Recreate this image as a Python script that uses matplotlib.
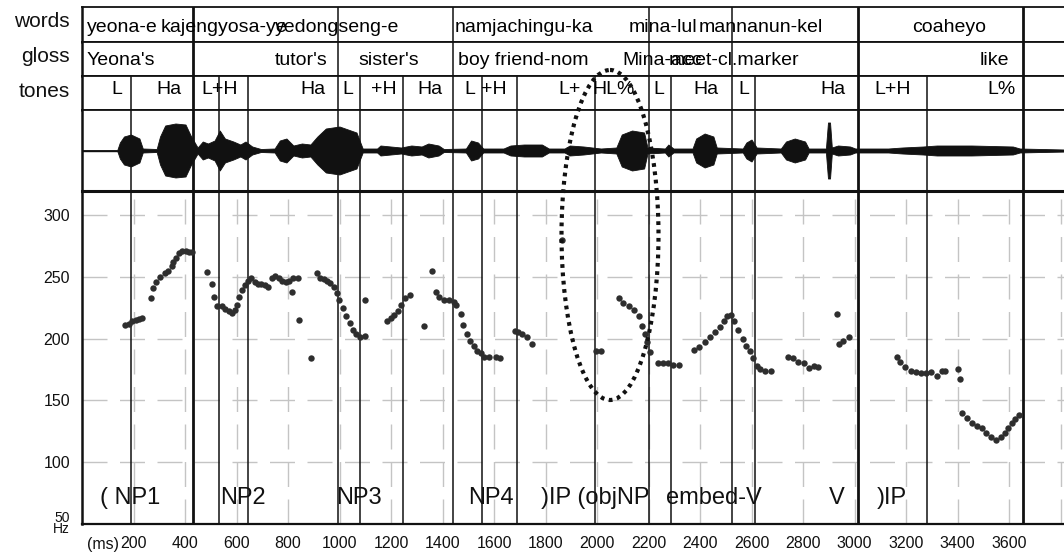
import matplotlib.pyplot as plt
from matplotlib.patches import Ellipse
from matplotlib.transforms import blended_transform_factory

plt.rcParams['font.family'] = ['Liberation Sans', 'DejaVu Sans']

# ---------------- values ----------------
# interval boundaries (ms)
word_bounds = [430, 995, 1442, 2202, 2523, 3015, 3656]
tone_bounds = [189, 430, 532, 643, 995, 1080, 1245, 1442, 1552, 1688,
               1992, 2202, 2286, 2523, 2614, 3015, 3283, 3656]
thick_bounds = [430, 3015, 3656]

# tier labels (text, left edge in ms)
words = ["yeona-e", "kajengyosa-ye", "yedongseng-e", "namjachingu-ka",
         "mina-lul", "mannanun-kel", "coaheyo"]
words_ms = [19, 307, 750, 1449, 2124, 2396, 3223]
gloss = ["Yeona's", "tutor's", "sister's", "boy friend-nom", "Mina-acc",
         "meet-cl.marker", "like"]
gloss_ms = [16, 750, 1072, 1460, 2097, 2280, 3487]
# tones (text, centre in ms)
tones = ["L", "Ha", "L+H", "Ha", "L", "+H", "Ha", "L", "+H", "L+", "HL%",
         "L", "Ha", "L", "Ha", "L+H", "L%"]
tones_ms = [136, 338, 536, 897, 1033, 1173, 1351, 1507, 1600, 1893, 2066,
            2241, 2423, 2571, 2917, 3150, 3569]
# phrase labels inside the pitch panel (left edge in ms)
phrases = ["( NP1", "NP2", "NP3", "NP4", ")IP (objNP", "embed-V", "V", ")IP"]
phrases_ms = [70, 536, 986, 1499, 1783, 2268, 2901, 3087]

# waveform envelope (ms, half amplitude in px)
wave_ms = [0, 137, 147, 163, 190, 223, 236, 290, 303, 323, 363, 402, 422,
           449, 469, 489, 515, 535, 555, 588, 615, 635, 661, 695, 748, 768,
           794, 821, 854, 887, 914, 947, 1000, 1066, 1090, 1146, 1159, 1199,
           1239, 1279, 1319, 1345, 1385, 1405, 1491, 1511, 1538, 1558, 1637,
           1664, 1717, 1786, 1813, 1874, 1894, 1948, 2015, 2075, 2096, 2136,
           2183, 2196, 2264, 2277, 2297, 2371, 2385, 2418, 2452, 2465, 2566,
           2580, 2600, 2620, 2714, 2734, 2768, 2808, 2822, 2889, 2897, 2905,
           2912, 2936, 2983, 3003, 3131, 3185, 3266, 3320, 3454, 3615, 3642,
           3815]
wave_amp = [0.5, 0.5, 8, 14, 16, 12, 2, 1.5, 14, 25, 27, 26, 15,
            3, 9, 7, 10, 20, 12, 9, 6, 9, 4, 1.5, 2, 10,
            12, 5, 7, 6, 14, 22, 24, 18, 2, 2, 5, 4,
            3, 5, 4, 7, 5, 1.5, 2, 10, 8, 2, 2,
            5, 6, 6, 2, 2, 5, 4, 2, 3, 16, 20,
            18, 3, 2, 6, 2, 2, 12, 17, 14, 3, 2,
            8, 11, 3, 2, 9, 12, 9, 2, 2, 28, 28,
            3, 5, 4, 2, 2, 3, 4, 5, 5, 4, 2,
            1]

# F0 track (ms, Hz)
pitch_ms = [167, 181, 194, 208, 221, 232,
            268, 275, 288, 301, 322, 335, 348, 355, 364, 375, 389, 402, 415, 426,
            486, 505, 512, 525, 543, 556, 570, 583, 596, 603, 610, 623, 633, 643,
            657, 670, 683, 697, 710, 724, 737, 750, 764, 777, 791, 804, 820, 838,
            817, 842, 888,
            911, 925, 938, 951, 965, 978, 992, 998, 1012, 1025, 1039, 1052, 1065,
            1079, 1099, 1099,
            1186, 1199, 1213, 1226, 1240, 1253, 1273, 1329, 1360,
            1374, 1387, 1407, 1427, 1445, 1454, 1471, 1481, 1494, 1508, 1521,
            1534, 1548, 1561, 1581, 1608, 1624,
            1682, 1695, 1709, 1729, 1749, 1864, 1995, 2015,
            2085, 2102, 2123, 2143, 2163, 2176, 2187, 2196, 2206,
            2237, 2257, 2277, 2297, 2318,
            2378, 2398, 2418, 2439, 2459, 2479, 2492, 2506, 2519, 2533, 2546,
            2566, 2580, 2593, 2607, 2620, 2634, 2654, 2674,
            2741, 2761, 2782, 2802, 2822, 2842, 2860,
            2932, 2940, 2956, 2977,
            3165, 3178, 3198, 3219, 3239, 3259, 3279, 3299, 3320, 3340, 3353,
            3400, 3411,
            3417, 3435, 3455, 3475, 3495, 3509, 3529, 3550, 3570, 3583, 3597,
            3610, 3624, 3640]
pitch_hz = [211, 212, 214, 215, 216, 217,
            233, 241, 246, 250, 253, 255, 259, 262, 265, 269, 271, 271, 270, 270,
            254, 244, 234, 226, 226, 224, 222, 221, 223, 227, 234, 239, 243, 247,
            249, 246, 244, 244, 243, 242, 249, 251, 249, 247, 246, 247, 249, 249,
            238, 215, 184,
            253, 249, 248, 247, 245, 242, 237, 231, 225, 218, 213, 207, 204,
            201, 202, 231,
            214, 217, 219, 222, 227, 233, 235, 210, 255,
            238, 234, 231, 231, 230, 227, 220, 211, 204, 198, 194,
            190, 188, 185, 185, 185, 184,
            206, 205, 204, 201, 196, 280, 190, 190,
            233, 229, 226, 223, 218, 210, 204, 197, 189,
            180, 180, 180, 179, 179,
            191, 193, 197, 201, 205, 209, 214, 218, 219, 214, 207,
            200, 194, 190, 184, 178, 175, 174, 174,
            185, 184, 181, 180, 176, 178, 177,
            220, 196, 198, 201,
            185, 181, 177, 174, 173, 172, 172, 173, 170, 174, 174,
            175, 167,
            140, 136, 132, 129, 128, 124, 120, 118, 120, 124, 128,
            132, 135, 138]

x_ticks = list(range(200, 3601, 200))
y_ticks = [50, 100, 150, 200, 250, 300]

# ---------------- layout (pixel geometry of the original) ----------------
W, H = 1064, 553
X0 = 82              # left border, px
PX_MS = 0.2575       # px per ms
XMAX = (W - X0) / PX_MS
INK = '#111111'

fig = plt.figure(figsize=(W / 100, H / 100), dpi=100)


def panel(top, bottom):
    ax = fig.add_axes([X0 / W, 1 - bottom / H, 1 - X0 / W, (bottom - top) / H])
    ax.set_xlim(0, XMAX)
    ax.set_xticks([])
    ax.set_yticks([])
    ax.spines['right'].set_visible(False)
    for s in ['top', 'bottom', 'left']:
        ax.spines[s].set_color(INK)
        ax.spines[s].set_linewidth(1.3)
    ax.spines['left'].set_linewidth(1.8)
    return ax


def boundaries(ax, bounds):
    for b in bounds:
        lw = 2.0 if b in thick_bounds else 1.1
        ax.axvline(b, color=INK, lw=lw, zorder=3)


ax_words = panel(7.3, 41.7)
ax_gloss = panel(41.7, 76)
ax_tones = panel(76, 110)
ax_wave = panel(110, 191)
ax_pitch = panel(191, 524)

# word and gloss tiers
boundaries(ax_words, word_bounds)
boundaries(ax_gloss, word_bounds)
for t, m in zip(words, words_ms):
    ax_words.text(m, 0.29, t, fontsize=14, ha='left', va='baseline')
for t, m in zip(gloss, gloss_ms):
    ax_gloss.text(m, 0.32, t, fontsize=14, ha='left', va='baseline')

# tone tier
boundaries(ax_tones, tone_bounds)
for t, m in zip(tones, tones_ms):
    ax_tones.text(m, 0.59, t, fontsize=14, ha='center', va='center')

# waveform
boundaries(ax_wave, tone_bounds)
ax_wave.set_ylim(-40.5, 40.5)
ax_wave.axhline(0, color=INK, lw=1.0, zorder=2)
ax_wave.fill_between(wave_ms, [-a for a in wave_amp], wave_amp,
                     color=INK, lw=0.6, zorder=2)

# pitch panel
ax_pitch.set_ylim(50, 50 + (524 - 191) / 1.236)
ax_pitch.spines['top'].set_linewidth(2.2)
ax_pitch.spines['bottom'].set_linewidth(1.6)
for g in range(200, int(XMAX) + 1, 200):
    ax_pitch.axvline(g, color='#c4c4c4', lw=1.0, dashes=(18, 9), zorder=1)
for g in y_ticks[1:]:
    ax_pitch.axhline(g, color='#c4c4c4', lw=1.0, dashes=(18, 9), zorder=1)
boundaries(ax_pitch, tone_bounds)
ax_pitch.plot(pitch_ms, pitch_hz, 'o', ms=4.6, color='#2e2e2e', mec='none',
              zorder=5)

ax_pitch.set_xticks(x_ticks)
ax_pitch.set_xticklabels([str(v) for v in x_ticks])
ax_pitch.set_yticks(y_ticks)
ax_pitch.set_yticklabels(['50\nHz'] + [str(v) for v in y_ticks[1:]])
ax_pitch.tick_params(axis='both', length=0, labelsize=11.5, colors=INK)
ax_pitch.tick_params(axis='x', pad=9)
ax_pitch.tick_params(axis='y', pad=8.5)
lab50 = ax_pitch.get_yticklabels()[0]
lab50.set_fontsize(10)
lab50.set_linespacing(0.7)

trans = blended_transform_factory(ax_pitch.transData, ax_pitch.transAxes)
ax_pitch.text(83, -0.063, "(ms)", transform=trans, fontsize=11.5,
              ha='center', va='center', color=INK)

for t, m in zip(phrases, phrases_ms):
    ax_pitch.text(m, 71, t, fontsize=17, ha='left', va='center', color=INK,
                  zorder=6)

# overlay in pixel coordinates: tier names and the dotted ellipse
ov = fig.add_axes([0, 0, 1, 1])
ov.set_xlim(0, W)
ov.set_ylim(H, 0)
ov.axis('off')
ov.patch.set_alpha(0)
for name, base in [("words", 26.7), ("gloss", 61.7), ("tones", 96.7)]:
    ov.text(70, base, name, fontsize=15, ha='right', va='baseline', color=INK)
ov.add_patch(Ellipse((610, 235), 97, 330, fill=False, ec=INK, lw=3,
                     linestyle=(0, (0.9, 1.1)), zorder=10))

fig.savefig('out.png', dpi=100)
